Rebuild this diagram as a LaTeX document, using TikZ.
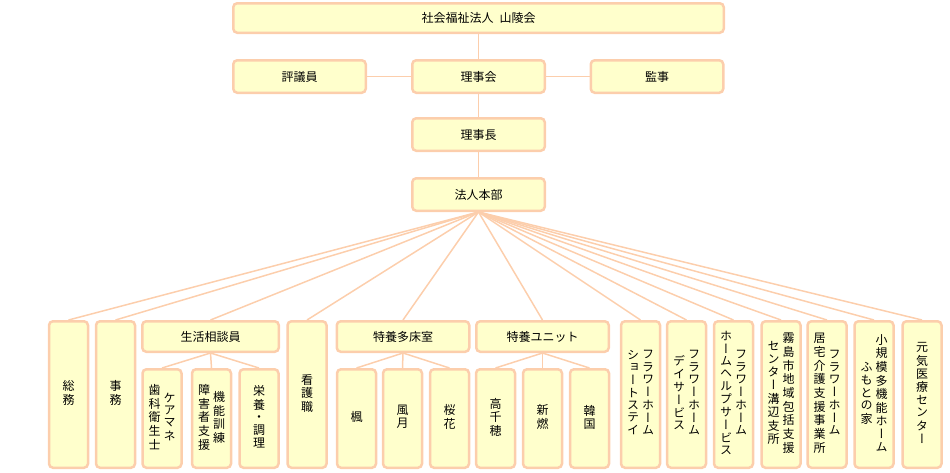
\documentclass[tikz,border=0pt]{standalone}
\usepackage{fontspec}
\usepackage{graphicx}
\usepackage{tikz}
\newfontfamily\jp{Noto Sans CJK JP}
\newfontfamily\jpv[RawFeature={+vert}]{Noto Sans CJK JP}
\definecolor{peach}{RGB}{252,206,172}
\definecolor{cream}{RGB}{255,255,204}

% vertical text: one character per row
\ExplSyntaxOn
\tl_new:N \l_tate_tl
\NewDocumentCommand{\tate}{m}
  {
    \tl_clear:N \l_tate_tl
    \tl_map_inline:nn {#1} { \tl_put_right:Nn \l_tate_tl {##1 \\} }
    {\jpv\begin{tabular}[c]{@{}c@{}} \l_tate_tl \end{tabular}}
  }
\ExplSyntaxOff
\newcommand{\tatetwo}[2]{\tate{#1}\hspace{3pt}\tate{#2}}

\begin{document}
\begin{tikzpicture}[x=1pt,y=-1pt,
    box/.style={draw=peach, fill=cream, line width=2.5pt, rounded corners=4pt,
      inner sep=0pt, font=\jp\fontsize{12}{12}\selectfont},
    wide/.style={box, minimum width=132.5pt, minimum height=32.5pt},
    head/.style={box, minimum width=132.5pt, minimum height=30.5pt},
    col/.style={box, minimum width=39pt, minimum height=146.5pt},
    sub/.style={box, minimum width=39pt, minimum height=98.5pt},
    link/.style={draw=peach, line width=1.5pt}]
    \useasboundingbox (0,0) rectangle (950,472);

    \node[box, minimum width=490.5pt, minimum height=29.5pt] (Corp) at (478.5,18) {社会福祉法人\hspace{0.5em}山陵会};
    \node[wide] (Hyogi) at (299.5,76.5) {評議員};
    \node[wide] (Rijikai) at (478.5,76.5) {理事会};
    \node[wide] (Kanji) at (657,76.5) {監事};
    \node[wide] (Rijicho) at (478.5,134.5) {理事長};
    \node[wide] (Honbu) at (478.5,194.5) {法人本部};

    \node[col] (Somu) at (68.5,394.5) {\tate{総務}};
    \node[col] (Jimu) at (115.5,394.5) {\tate{事務}};
    \node[head, minimum width=136.5pt] (Seikatsu) at (210.5,336.5) {生活相談員};
    \node[sub] (Shika) at (162,418.5) {\tatetwo{歯科衛生士}{ケアマネ}};
    \node[sub] (Kino) at (211.5,418.5) {\tatetwo{障害者支援}{機能訓練}};
    \node[sub] (Eiyo) at (259,418.5) {\tate{栄養・調理}};
    \node[col] (Kango) at (307,394.5) {\tate{看護職}};
    \node[head] (Tashou) at (403,336.5) {特養多床室};
    \node[sub] (Kaede) at (356.5,418.5) {\tate{楓}};
    \node[sub] (Fugetsu) at (402.5,418.5) {\tate{風月}};
    \node[sub] (Ouka) at (449.5,418.5) {\tate{桜花}};
    \node[head] (Unit) at (542.5,336.5) {特養ユニット};
    \node[sub] (Takachiho) at (495.5,418.5) {\tate{高千穂}};
    \node[sub] (Shinmoe) at (542.5,418.5) {\tate{新燃}};
    \node[sub] (Karakuni) at (589.5,418.5) {\tate{韓国}};
    \node[col] (FlowerSS) at (640.5,394.5) {\tatetwo{ショートステイ}{フラワーホーム}};
    \node[col] (FlowerDS) at (686.5,394.5) {\tatetwo{デイサービス}{フラワーホーム}};
    \node[col] (FlowerHH) at (733.5,394.5) {\tatetwo{ホームヘルプサービス}{フラワーホーム}};
    \node[col] (Houkatsu) at (781,394.5) {\tatetwo{センター溝辺支所}{霧島市地域包括支援}};
    \node[col] (Kyotaku) at (827,394.5) {\tatetwo{居宅介護支援事業所}{フラワーホーム}};
    \node[col] (Shokibo) at (874,394.5) {\tatetwo{ふもとの家}{小規模多機能ホーム}};
    \node[col] (Genki) at (922,394.5) {\tate{元気医療センター}};

    \draw[link] (Corp) to (Rijikai);
    \draw[link] (Hyogi) to (Rijikai);
    \draw[link] (Rijikai) to (Kanji);
    \draw[link] (Rijikai) to (Rijicho);
    \draw[link] (Rijicho) to (Honbu);

    \draw[link] (Honbu.south) to (Somu.north);
    \draw[link] (Honbu.south) to (Jimu.north);
    \draw[link] (Honbu.south) to (Seikatsu.north);
    \draw[link] (Honbu.south) to (Kango.north);
    \draw[link] (Honbu.south) to (Tashou.north);
    \draw[link] (Honbu.south) to (Unit.north);
    \draw[link] (Honbu.south) to (FlowerSS.north);
    \draw[link] (Honbu.south) to (FlowerDS.north);
    \draw[link] (Honbu.south) to (FlowerHH.north);
    \draw[link] (Honbu.south) to (Houkatsu.north);
    \draw[link] (Honbu.south) to (Kyotaku.north);
    \draw[link] (Honbu.south) to (Shokibo.north);
    \draw[link] (Honbu.south) to (Genki.north);

    \draw[link] (Seikatsu.south) to (Shika.north);
    \draw[link] (Seikatsu.south) to (Kino.north);
    \draw[link] (Seikatsu.south) to (Eiyo.north);

    \draw[link] (Tashou.south) to (Kaede.north);
    \draw[link] (Tashou.south) to (Fugetsu.north);
    \draw[link] (Tashou.south) to (Ouka.north);

    \draw[link] (Unit.south) to (Takachiho.north);
    \draw[link] (Unit.south) to (Shinmoe.north);
    \draw[link] (Unit.south) to (Karakuni.north);

\end{tikzpicture}
\end{document}
